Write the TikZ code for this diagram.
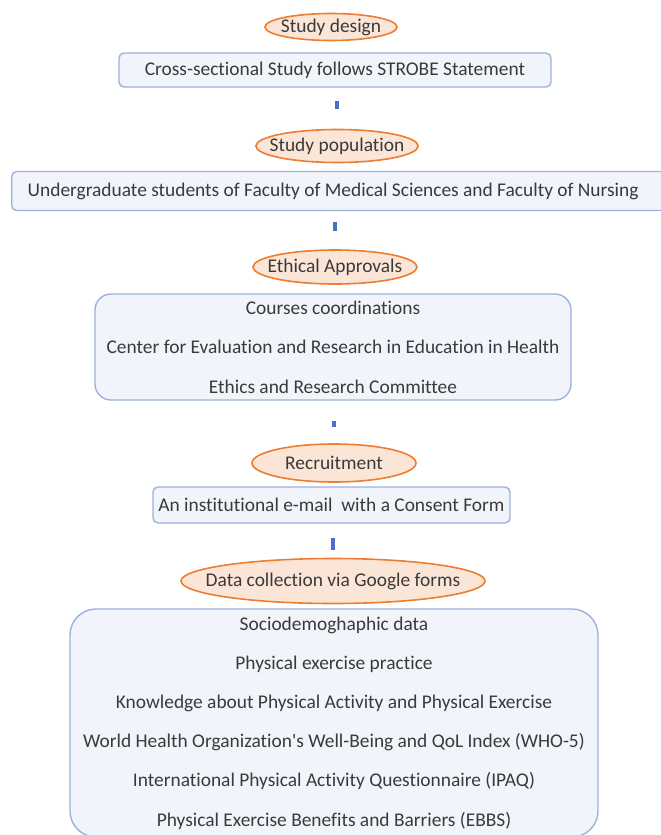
\documentclass[tikz,border=0pt]{standalone}
\usepackage{fontspec}
\setmainfont{Carlito}[Ligatures=NoCommon]
\usepackage{xcolor}
\usetikzlibrary{shapes.geometric}
\definecolor{etapaborde}{HTML}{ED7D31}
\definecolor{etapafondo}{HTML}{FBE5D6}
\definecolor{cajaborde}{HTML}{9DB1DD}
\definecolor{cajafondo}{HTML}{F1F4FA}
\definecolor{enlace}{HTML}{4A6FC4}
\definecolor{texto}{HTML}{3A3A3A}

\begin{document}
\begin{tikzpicture}[x=0.5pt, y=-0.5pt, font=\fontsize{9.7}{10}\selectfont, text=texto,
  etapa/.style={ellipse, draw=etapaborde, fill=etapafondo, line width=0.8pt, inner sep=0pt},
  caja/.style={draw=cajaborde, fill=cajafondo, line width=0.7pt, rounded corners=2.5pt, inner sep=0pt},
  lista/.style={caja, align=center, font=\fontsize{9.7}{19.8}\selectfont},
  enlace/.style={draw=enlace, line width=1.6pt}]
\useasboundingbox (0,0) rectangle (660,835);
\fill[white] (0,0) rectangle (660,835);
% etapas y cajas
\node[etapa, inner xsep=-2pt, minimum width=66pt, minimum height=13.5pt] (e1) at (331,27) {Study design};
\node[caja, minimum width=216pt, minimum height=17pt] (b1) at (335,70) {Cross-sectional Study follows STROBE Statement};
\node[etapa, inner xsep=-5pt, minimum width=81pt, minimum height=16.5pt] (e2) at (337,146) {Study population};
\node[caja, anchor=west, text width=320pt, inner xsep=8pt, minimum height=19.5pt, align=flush left] (b2) at (11,191) {Undergraduate students of Faculty of Medical Sciences and Faculty of Nursing};
\node[etapa, inner xsep=-4.8pt, minimum width=82pt, minimum height=17pt] (e3) at (335,267) {Ethical Approvals};
\node[lista, rounded corners=8pt, minimum width=238pt, minimum height=53pt] (b3) at (333,347) {Courses coordinations\\Center for Evaluation and Research in Education in Health\\Ethics and Research Committee};
\node[etapa, minimum width=82pt, minimum height=19pt] (e4) at (334,463) {Recruitment};
\node[caja, minimum width=178.5pt, minimum height=18pt] (b4) at (331.5,505) {An institutional e-mail\ \ with a Consent Form};
\node[etapa, inner xsep=-10pt, minimum width=152pt, minimum height=22.5pt] (e5) at (333,581) {Data collection via Google forms};
\node[lista, rounded corners=13pt, minimum width=264pt, minimum height=114pt, font=\fontsize{9.7}{19.6}\selectfont] (b5) at (334,723) {Sociodemoghaphic data\\Physical exercise practice\\Knowledge about Physical Activity and Physical Exercise\\World Health Organization\textquotesingle s Well-Being and QoL Index (WHO-5)\\International Physical Activity Questionnaire (IPAQ)\\Physical Exercise Benefits and Barriers (EBBS)};
% enlaces
\draw[enlace, shorten <=6.5pt, shorten >=10pt] (b1.south -| e2.north) -- (e2.north);
\draw[enlace, shorten <=5.5pt, shorten >=9pt] (b2.south -| e3.north) -- (e3.north);
\draw[enlace, shorten <=10pt, shorten >=8pt] (b3.south -| e4.north) -- (e4.north);
\draw[enlace, shorten <=7pt, shorten >=4pt] (b4.south -| e5.north) -- (e5.north);
\end{tikzpicture}
\end{document}
